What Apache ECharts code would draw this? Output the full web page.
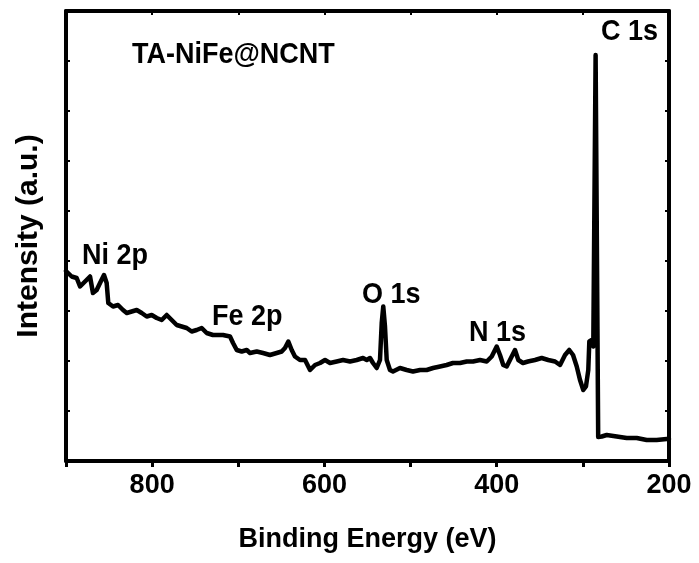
<!DOCTYPE html>
<html>
<head>
<meta charset="utf-8">
<script src="https://cdn.jsdelivr.net/npm/echarts@6/dist/echarts.min.js"></script>
<style>html,body{margin:0;padding:0;background:#fff;}#c{width:699px;height:563px;}</style>
</head>
<body>
<div id="c"></div>
<script>
var energy = [900, 899.2, 893.4, 887.6, 883.7, 877.9, 872.1, 868.7, 864.4, 860.5, 855.9, 852.8, 850.9, 845.4, 839.6, 833.8, 829.5, 823.7, 817.9, 812.1, 806.3, 800.5, 794.7, 788.9, 783.1, 777.3, 771.5, 765.7, 759.9, 754.1, 748.3, 742.5, 736.7, 729.4, 721.2, 717.7, 709.6, 706.1, 701.8, 696.0, 690.2, 686.4, 678.6, 671.3, 663.2, 655.4, 649.6, 645.8, 641.9, 638.0, 634.2, 628.4, 622.5, 616.7, 610.9, 605.1, 599.3, 593.5, 585.8, 578.4, 570.3, 562.5, 555.2, 550.9, 547.1, 543.6, 539.3, 535.5, 533.5, 531.7, 529.7, 527.7, 523.9, 520.4, 512.3, 504.5, 497.2, 489.0, 481.3, 473.9, 465.8, 458.1, 450.8, 442.6, 434.8, 427.5, 419.4, 411.6, 405.8, 400.0, 396.2, 392.4, 388.4, 382.6, 378.8, 374.9, 369.5, 363.7, 355.6, 347.8, 340.2, 332.3, 326.5, 320.7, 315.8, 311.4, 307.1, 303.3, 299.5, 296.4, 293.7, 292.5, 289.7, 287.9, 285.2, 282.2, 278.1, 272.3, 260.7, 249.1, 237.5, 225.9, 214.3, 202.7, 200];
var intensity = [3.80, 3.79, 3.69, 3.66, 3.49, 3.59, 3.69, 3.36, 3.42, 3.56, 3.72, 3.56, 3.16, 3.09, 3.12, 3.02, 2.96, 2.99, 3.02, 2.96, 2.89, 2.92, 2.86, 2.82, 2.92, 2.82, 2.72, 2.69, 2.66, 2.59, 2.62, 2.66, 2.56, 2.52, 2.52, 2.52, 2.49, 2.36, 2.22, 2.19, 2.22, 2.16, 2.19, 2.16, 2.12, 2.16, 2.19, 2.26, 2.39, 2.22, 2.09, 2.02, 2.02, 1.82, 1.92, 1.96, 2.02, 1.96, 1.99, 2.02, 1.99, 2.02, 2.06, 2.02, 2.06, 1.96, 1.86, 2.02, 2.76, 3.09, 2.69, 2.02, 1.82, 1.79, 1.86, 1.82, 1.79, 1.82, 1.82, 1.86, 1.89, 1.92, 1.96, 1.96, 1.99, 1.99, 2.02, 1.99, 2.09, 2.29, 2.12, 1.92, 1.89, 2.09, 2.22, 2.02, 1.96, 1.99, 2.02, 2.06, 2.02, 1.99, 1.92, 2.12, 2.22, 2.12, 1.89, 1.62, 1.42, 1.49, 1.82, 2.39, 2.42, 2.29, 8.12, 0.48, 0.49, 0.52, 0.49, 0.46, 0.46, 0.42, 0.42, 0.44, 0.44];
var xTicksLabelled = [800, 600, 400, 200];
var peakLabels = ['Ni 2p', 'Fe 2p', 'O 1s', 'N 1s', 'C 1s'];
var sampleName = 'TA-NiFe@NCNT';

var FONT = '"Liberation Sans", Arial, Helvetica, sans-serif';
var data = energy.map(function (e, i) { return [e, intensity[i]]; });

var chart = echarts.init(document.getElementById('c'), null, {renderer: 'canvas'});
var txt = function (s, x, y) {
  return {type: 'text', x: x, y: y, z: 100, scaleY: 1.08,
    style: {text: s, fill: '#000', font: 'bold 27px ' + FONT, verticalAlign: 'middle', align: 'left'}};
};
var lblPos = [[82, 256], [212, 317], [362, 295], [469, 333], [601, 32]];
var graphics = peakLabels.map(function (s, i) { return txt(s, lblPos[i][0], lblPos[i][1]); });
graphics.push(txt(sampleName, 132, 55));

chart.setOption({
  animation: false,
  backgroundColor: '#fff',
  grid: {left: 66, right: 30, top: 11, bottom: 102},
  xAxis: [{
    type: 'value', position: 'bottom', min: 200, max: 900, interval: 100, inverse: true,
    axisLine: {show: true, onZero: false, lineStyle: {color: '#000', width: 4}},
    axisTick: {show: true, inside: false, length: 6, lineStyle: {color: '#000', width: 3}},
    splitLine: {show: false},
    axisLabel: {
      color: '#000', fontSize: 27, fontWeight: 'bold', fontFamily: FONT, margin: 11,
      formatter: function (v) { return xTicksLabelled.indexOf(v) >= 0 ? String(v) : ''; }
    },
    name: 'Binding Energy (eV)', nameLocation: 'middle', nameGap: 65,
    nameTextStyle: {color: '#000', fontSize: 27, fontWeight: 'bold', fontFamily: FONT}
  }, {
    type: 'value', position: 'top', min: 200, max: 900, interval: 100, inverse: true,
    axisLine: {show: true, onZero: false, lineStyle: {color: '#000', width: 4}},
    axisTick: {show: true, inside: true, length: 4, lineStyle: {color: '#000', width: 2}},
    splitLine: {show: false}, axisLabel: {show: false}
  }],
  yAxis: [{
    type: 'value', position: 'left', min: 0, max: 9, interval: 1,
    axisLine: {show: true, onZero: false, lineStyle: {color: '#000', width: 4}},
    axisTick: {show: true, inside: true, length: 4, lineStyle: {color: '#000', width: 2}},
    splitLine: {show: false}, axisLabel: {show: false},
    name: 'Intensity (a.u.)', nameLocation: 'middle', nameGap: 22,
    nameTextStyle: {color: '#000', fontSize: 30, fontWeight: 'bold', fontFamily: FONT}
  }, {
    type: 'value', position: 'right', min: 0, max: 9, interval: 1,
    axisLine: {show: true, onZero: false, lineStyle: {color: '#000', width: 4}},
    axisTick: {show: true, inside: true, length: 4, lineStyle: {color: '#000', width: 2}},
    splitLine: {show: false}, axisLabel: {show: false}
  }],
  series: [{
    type: 'line', xAxisIndex: 0, yAxisIndex: 0, data: data,
    showSymbol: false, symbol: 'none',
    lineStyle: {color: '#000', width: 4.5, cap: 'round', join: 'round'}
  }],
  graphic: graphics
});
</script>
</body>
</html>
